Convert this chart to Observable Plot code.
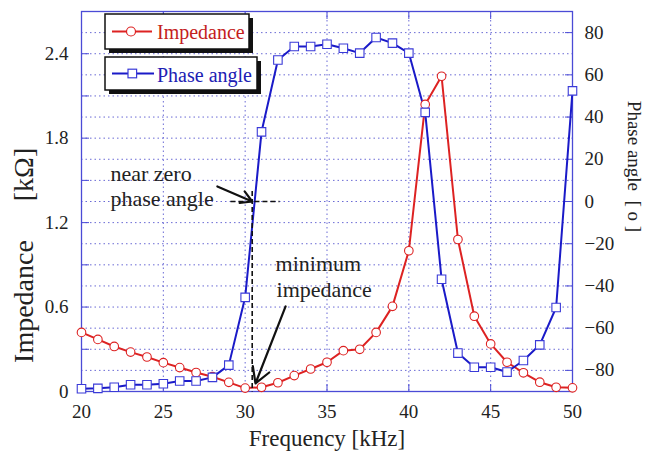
<!DOCTYPE html>
<html><head><meta charset="utf-8">
<script src="https://cdn.jsdelivr.net/npm/d3@7"></script>
<script src="https://cdn.jsdelivr.net/npm/@observablehq/plot@0.6"></script>
<style>
body{margin:0;background:#fff;}
#wrap{position:relative;width:653px;height:452px;font-family:"Liberation Serif",serif;}
#legend{position:absolute;left:0;top:0;pointer-events:none;}
</style></head><body><div id="wrap"></div>
<script>
// ---- data ----
const freq = [20,21,22,23,24,25,26,27,28,29,30,31,32,33,34,35,36,37,38,39,40,41,42,43,44,45,46,47,48,49,50];
const impedance = [0.42,0.37,0.32,0.28,0.245,0.205,0.17,0.135,0.105,0.065,0.024,0.03,0.062,0.113,0.16,0.208,0.29,0.30,0.42,0.605,1.0,2.04,2.24,1.08,0.535,0.338,0.208,0.133,0.066,0.03,0.026];
const phase = [-88.7,-88.5,-88,-86.8,-86.8,-86.3,-85,-85,-83.3,-77.5,-45.4,33,67,73.4,73.4,74.5,72.6,70.3,77.7,75,70.3,42.2,-36.8,-71.8,-78.5,-78.5,-80.8,-75.3,-67.9,-50.2,52.4];
const xTicks = [20,25,30,35,40,45,50];
const xInner = [25,30,35,40,45];
const impTicks = [0,0.6,1.2,1.8,2.4];
const impMinor = [0.3,0.6,0.9,1.2,1.5,1.8,2.1,2.4];
const phaseTicks = [-80,-60,-40,-20,0,20,40,60,80];
const phaseGrid = [-80,-70,-60,-50,-40,-30,-20,-10,0,10,20,30,40,50,60,70,80];
const IMP_MAX = 2.7;
// annotations
const noteText = ["near zero","phase angle","minimum","impedance"];
const noteX = [21.77,21.77,31.86,31.92];
const noteY = [9.5,-1.9,-32.7,-45];
const arrowX1 = [28.3,32.47], arrowY1 = [7.1,-49.7], arrowX2 = [30.43,30.63], arrowY2 = [0,-86.2];
const dashX1 = [29.1,30.43], dashY1 = [0,5], dashX2 = [32.1,30.43], dashY2 = [0,-90];

const toDeg = v => v / IMP_MAX * 180 - 90;
const fromDeg = d => (d + 90) / 180 * IMP_MAX;
const rows = freq.map((f,i) => ({f, imp: impedance[i], ph: phase[i]}));
const notes = noteText.map((t,i) => ({t, x: noteX[i], y: noteY[i]}));
const arrows = arrowX1.map((_,i) => ({x1: arrowX1[i], y1: arrowY1[i], x2: arrowX2[i], y2: arrowY2[i]}));
const dashes = dashX1.map((_,i) => ({x1: dashX1[i], y1: dashY1[i], x2: dashX2[i], y2: dashY2[i]}));

const RED = "#dd2222", BLUE = "#1a1ac8", FRAME = "#4b4bd6", GRID = "#5a5ad0";

const chart = Plot.plot({
  width: 653, height: 452,
  marginLeft: 81, marginRight: 81, marginTop: 11, marginBottom: 61,
  x: {domain: [20, 50]},
  y: {domain: [-90, 90]},
  style: {fontFamily: "Liberation Serif, serif", fontSize: "19px", color: "#222", background: "white"},
  marks: [
    Plot.gridY(phaseGrid, {stroke: GRID, strokeOpacity: 0.9, strokeDasharray: "1.5,3", strokeWidth: 1}),
    Plot.gridX(xInner, {stroke: GRID, strokeOpacity: 0.9, strokeDasharray: "1.5,3", strokeWidth: 1}),
    Plot.frame({stroke: FRAME, strokeWidth: 1.3}),
    // inward ticks
    Plot.axisX(xInner, {anchor: "bottom", tickSize: -7, fill: "none", stroke: FRAME, label: null}),
    Plot.axisX(xInner, {anchor: "top", tickSize: -7, fill: "none", stroke: FRAME, label: null}),
    Plot.axisY(impMinor.map(toDeg), {anchor: "left", tickSize: -8, fill: "none", stroke: FRAME, label: null}),
    Plot.axisY(phaseTicks, {anchor: "right", tickSize: -8, fill: "none", stroke: FRAME, label: null}),
    // tick labels
    Plot.axisX(xTicks, {anchor: "bottom", tickSize: 0, tickPadding: 13, label: null, fill: "#222"}),
    Plot.axisY(impTicks.map(toDeg), {anchor: "left", tickSize: 0, tickPadding: 13, label: null, fill: "#222",
      tickFormat: d => String(Math.round(fromDeg(d) * 10) / 10)}),
    Plot.axisY(phaseTicks, {anchor: "right", tickSize: 0, tickPadding: 12, label: null, fill: "#222",
      tickFormat: d => d < 0 ? "\u2212" + Math.abs(d) : String(d)}),
    // axis titles
    Plot.text(["Frequency [kHz]"], {frameAnchor: "bottom", lineAnchor: "bottom", dy: 54, fontSize: 23, fill: "#222"}),
    Plot.text(["Impedance"], {frameAnchor: "left", textAnchor: "middle", rotate: -90, dx: -57, dy: 100, fontSize: 28, fill: "#222"}),
    Plot.text(["[k\u03A9]"], {frameAnchor: "left", textAnchor: "middle", rotate: -90, dx: -57, dy: -27, fontSize: 28, fill: "#222"}),
    Plot.text(["Phase angle\u2002[ o ]"], {frameAnchor: "right", textAnchor: "middle", rotate: 90, dx: 62, dy: -35, fontSize: 19, fill: "#222"}),
    // data
    Plot.line(rows, {x: "f", y: d => toDeg(d.imp), stroke: RED, strokeWidth: 2}),
    Plot.line(rows, {x: "f", y: "ph", stroke: BLUE, strokeWidth: 2}),
    Plot.dot(rows, {x: "f", y: d => toDeg(d.imp), r: 4.3, fill: "white", stroke: RED, strokeWidth: 1.1}),
    Plot.dot(rows, {x: "f", y: "ph", symbol: "square", r: 4.8, fill: "white", stroke: "#3a3ad8", strokeWidth: 1.1}),
    // annotations
    Plot.link(dashes, {x1: "x1", y1: "y1", x2: "x2", y2: "y2", stroke: "#111", strokeWidth: 1.6, strokeDasharray: "5,3"}),
    Plot.arrow(arrows, {x1: "x1", y1: "y1", x2: "x2", y2: "y2", stroke: "#111", strokeWidth: 2.2, headLength: 12}),
    Plot.text(notes, {x: "x", y: "y", text: "t", textAnchor: "start", lineAnchor: "bottom", fontSize: 22, fill: "#222"})
  ]
});
const wrap = document.getElementById("wrap");
wrap.appendChild(chart);

// legend (layout only)
const leg = d3.select(wrap).append("svg").attr("id","legend").attr("width",653).attr("height",110)
  .style("font-family","Liberation Serif, serif");
function box(x,y,w,h){
  leg.append("rect").attr("x",x+4).attr("y",y+4).attr("width",w).attr("height",h).attr("fill","#111");
  leg.append("rect").attr("x",x).attr("y",y).attr("width",w).attr("height",h).attr("fill","white").attr("stroke","#111").attr("stroke-width",1.5);
}
box(105,14,144,35);
leg.append("line").attr("x1",112).attr("x2",152).attr("y1",31.5).attr("y2",31.5).attr("stroke",RED).attr("stroke-width",2);
leg.append("circle").attr("cx",131).attr("cy",31.5).attr("r",4.5).attr("fill","white").attr("stroke",RED).attr("stroke-width",1.2);
leg.append("text").attr("x",157).attr("y",38.5).attr("font-size",20).attr("fill","#c42020").text("Impedance");
box(105,57,152,33);
leg.append("line").attr("x1",112).attr("x2",154).attr("y1",73.5).attr("y2",73.5).attr("stroke",BLUE).attr("stroke-width",2);
leg.append("rect").attr("x",128).attr("y",69.2).attr("width",8.6).attr("height",8.6).attr("fill","white").attr("stroke","#3a3ad8").attr("stroke-width",1.2);
leg.append("text").attr("x",157).attr("y",81.5).attr("font-size",20).attr("fill","#2020b4").text("Phase angle");
</script></body></html>
